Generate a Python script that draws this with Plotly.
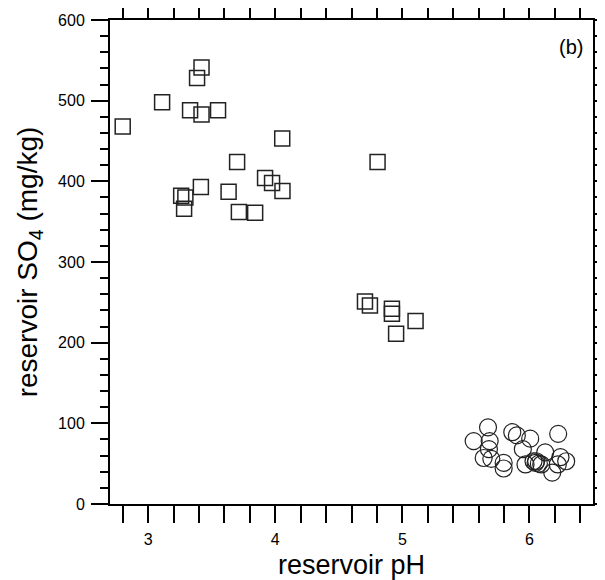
import plotly.graph_objects as go

# Reservoir data (squares): pH and SO4 (mg/kg)
sq_ph = [3.42, 3.385, 3.11, 3.33, 3.42, 3.55, 2.80, 4.055, 3.70, 3.92, 3.975, 4.057,
         3.415, 3.633, 3.26, 3.293, 3.283, 3.714, 3.842, 4.805,
         4.706, 4.745, 4.918, 4.918, 5.104, 4.951]
sq_so4 = [541, 528, 498, 488, 483, 488, 468, 453, 424, 404, 398, 388,
          393, 387, 382, 380, 366, 362, 361, 424,
          251, 246, 242, 236, 227, 211]

# Reservoir data (circles)
ci_ph = [5.674, 5.561, 5.687, 5.681, 5.64, 5.70, 5.797, 5.797, 5.865, 5.901, 6.006, 5.948,
         5.969, 6.124, 6.032, 6.053, 6.048, 6.074, 6.226, 6.179, 6.244, 6.289, 6.223, 6.093]
ci_so4 = [95, 78, 78, 68, 57, 56, 51, 44, 89, 85, 81, 68,
          49, 64, 53, 53, 51, 50, 87, 39, 58, 53, 49, 49]

FONT = "Liberation Sans, Arial, sans-serif"

fig = go.Figure()
fig.add_trace(go.Scatter(
    x=sq_ph, y=sq_so4, mode="markers",
    marker=dict(symbol="square-open", size=15, color="#222222", line=dict(width=1.5)),
    showlegend=False))
fig.add_trace(go.Scatter(
    x=ci_ph, y=ci_so4, mode="markers",
    marker=dict(symbol="circle-open", size=17, color="#222222", line=dict(width=1.2)),
    showlegend=False))
# empty trace to carry the right-hand tick axis
fig.add_trace(go.Scatter(x=[], y=[], yaxis="y2", showlegend=False, hoverinfo="skip"))

fig.add_annotation(x=0.984, y=0.944, xref="paper", yref="paper", text="(b)",
                   showarrow=False, xanchor="right", yanchor="middle",
                   font=dict(family=FONT, size=20, color="black"))

tickfont = dict(family=FONT, size=16, color="black")

fig.update_layout(
    xaxis=dict(
        range=[2.7, 6.5], dtick=1, tick0=0,
        showline=True, linecolor="black", linewidth=2, mirror="allticks",
        ticks="outside", ticklen=17, tickwidth=2, tickcolor="black",
        showgrid=False, zeroline=False, automargin=False, tickfont=tickfont,
        ticklabelstandoff=3,
        minor=dict(dtick=0.2, tick0=0, ticks="outside", ticklen=8, tickwidth=2,
                   tickcolor="black", showgrid=False),
        title=dict(text="reservoir pH", font=dict(family=FONT, size=27, color="black"), standoff=10),
    ),
    yaxis=dict(
        range=[0, 600], dtick=100, tick0=0,
        showline=True, linecolor="black", linewidth=2, mirror=True,
        ticks="outside", ticklen=17, tickwidth=2, tickcolor="black",
        showgrid=False, zeroline=False, automargin=False, tickfont=tickfont,
        ticklabelstandoff=3,
        minor=dict(dtick=20, tick0=0, ticks="outside", ticklen=8, tickwidth=2,
                   tickcolor="black", showgrid=False),
        title=dict(text="reservoir SO<sub>4</sub> (mg/kg)", font=dict(family=FONT, size=28, color="black"), standoff=12),
    ),
    yaxis2=dict(
        range=[0, 600], dtick=20, tick0=0, overlaying="y", side="right",
        showline=False, ticks="outside", ticklen=8, tickwidth=2, tickcolor="black",
        showticklabels=False, showgrid=False, zeroline=False, automargin=False,
    ),
    width=597, height=572,
    margin=dict(l=102, r=12, t=12, b=76),
    plot_bgcolor="white", paper_bgcolor="white",
    font=dict(family=FONT, color="black"),
)

fig.write_html("out.html")
